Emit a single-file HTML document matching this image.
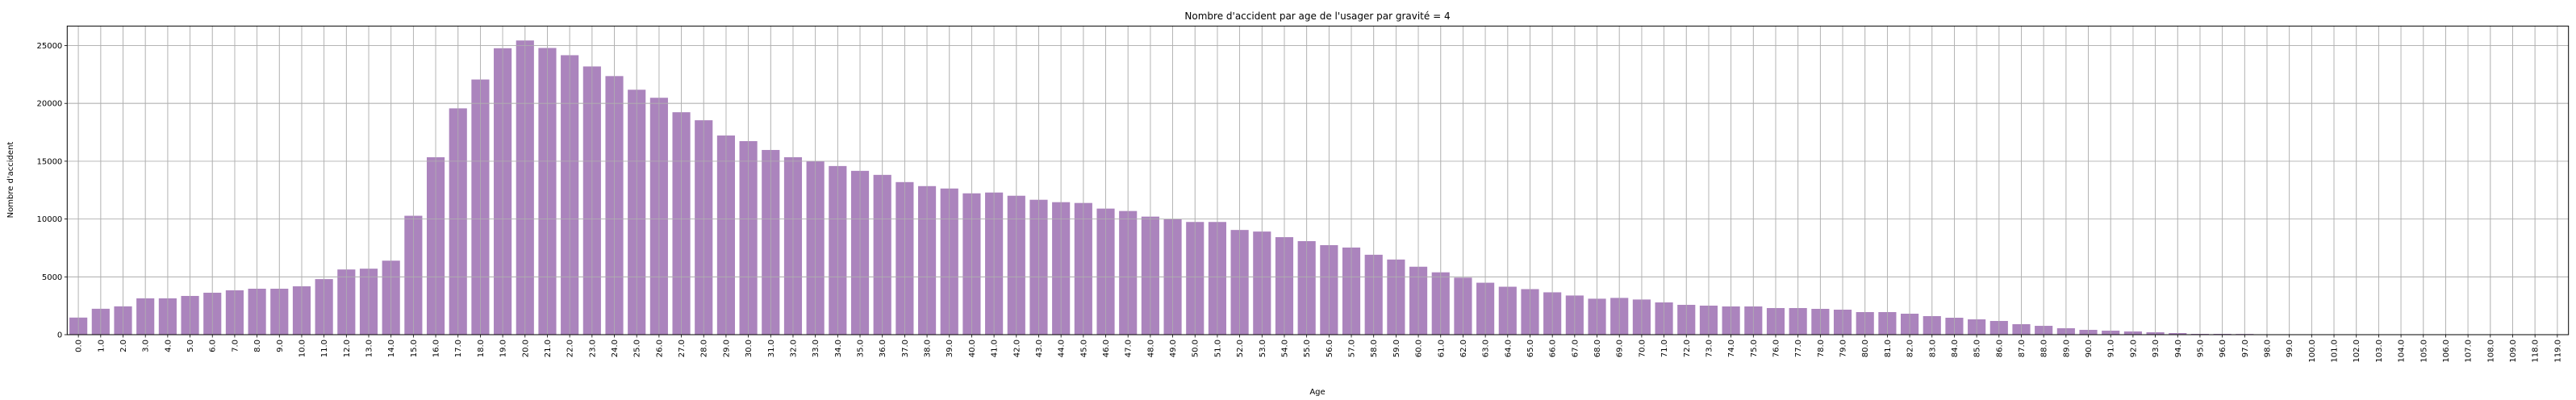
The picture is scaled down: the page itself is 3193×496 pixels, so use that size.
<!DOCTYPE html>
<html><head><meta charset="utf-8"><style>
html,body{margin:0;padding:0;background:#fff;}
svg{display:block;font-family:"DejaVu Sans","Liberation Sans",sans-serif;}
</style></head><body>
<svg id="chart" width="3193" height="496" viewBox="0 0 3193 496">
<text x="1633" y="24" font-size="12" text-anchor="middle">Nombre d'accident par age de l'usager par gravité = 4</text>
<text x="1633" y="489" font-size="10" text-anchor="middle">Age</text>
<text transform="translate(16,223) rotate(-90)" font-size="10" text-anchor="middle">Nombre d'accident</text>
<g id="grid"></g>
<g id="bars"></g>
<g id="axes"></g>
</svg>
<script>
const categories = [];
for (let a = 0; a <= 109; a++) categories.push(a.toFixed(1));
categories.push("118.0"); categories.push("119.0");
const values = [1479,2241,2449,3142,3142,3350,3628,3835,3974,3974,4182,4806,5638,5707,6400,10282,15342,19570,22066,24769,
25440,24792,24167,23194,22361,21181,20486,19236,18542,17222,16736,15972,15347,15023,14583,14167,13819,13194,12847,12639,
12222,12292,12014,11667,11458,11389,10903,10694,10208,9977,9747,9747,9055,8917,8433,8088,7742,7535,6912,6498,
5876,5392,4931,4493,4147,3940,3664,3387,3111,3180,3041,2791,2581,2512,2442,2442,2302,2302,2233,2163,
1953,1953,1814,1605,1465,1326,1186,907,764,556,417,347,278,208,139,69,69,60,
0,0,0,0,0,0,0,0,0,0,0,0,0,0];
const yTicks = [0,5000,10000,15000,20000,25000];

const L = 83.3, R = 3183.7, T = 32.3, B = 415;
const yMax = 26688;
const n = categories.length;
const step = (R - L) / n;
const xPos = i => L + step * (i + 0.5);
const yPos = v => B - (v / yMax) * (B - T);
const NS = "http://www.w3.org/2000/svg";
function mk(tag, attrs, parent) {
  const e = document.createElementNS(NS, tag);
  for (const k in attrs) e.setAttribute(k, attrs[k]);
  parent.appendChild(e);
  return e;
}
const grid = document.getElementById('grid');
const bars = document.getElementById('bars');
const axes = document.getElementById('axes');

categories.forEach((c, i) => {
  const x = xPos(i);
  const gl = mk('line', {x1: x, x2: x, y1: T, y2: B, stroke: '#b0b0b0', 'stroke-width': 0.8}, grid);
  
  
});
yTicks.forEach(t => {
  const y = yPos(t);
  const gl = mk('line', {x1: L, x2: R, y1: y, y2: y, stroke: '#b0b0b0', 'stroke-width': 0.8}, grid);
  
  
});

const bw = step * 0.8;
values.forEach((v, i) => {
  if (i >= n) return;
  const y = yPos(v);
  const r = mk('rect', {x: xPos(i) - bw / 2, y: y, width: bw, height: B - y, fill: '#ab84bd'}, bars);
  
  
});
// re-draw vertical grid over bars (matplotlib draws grid above bars here)
categories.forEach((c, i) => {
  const x = xPos(i);
  const gl = mk('line', {x1: x, x2: x, y1: T, y2: B, stroke: '#b0b0b0', 'stroke-width': 0.8}, bars);
  
  
});
yTicks.forEach(t => {
  const y = yPos(t);
  const gl = mk('line', {x1: L, x2: R, y1: y, y2: y, stroke: '#b0b0b0', 'stroke-width': 0.8}, bars);
  
  
});

const frame = mk('rect', {x: L, y: T, width: R - L, height: B - T, fill: 'none', stroke: '#000', 'stroke-width': 1}, axes);



yTicks.forEach(t => {
  const y = yPos(t);
  const tk = mk('line', {x1: L - 3.5, x2: L, y1: y, y2: y, stroke: '#000', 'stroke-width': 0.8}, axes);
  
  
  const lb = mk('text', {x: L - 6, y: y + 3.5, 'font-size': 10, 'text-anchor': 'end'}, axes);
  lb.textContent = String(t);
  
  
});
categories.forEach((c, i) => {
  const x = xPos(i);
  const tk = mk('line', {x1: x, x2: x, y1: B, y2: B + 3.5, stroke: '#000', 'stroke-width': 0.8}, axes);
  
  
  const lb = mk('text', {transform: 'translate(' + (x + 3.5) + ',' + (B + 6) + ') rotate(-90)', 'font-size': 10, 'text-anchor': 'end'}, axes);
  lb.textContent = c;
  
  
});
</script>
</body></html>
